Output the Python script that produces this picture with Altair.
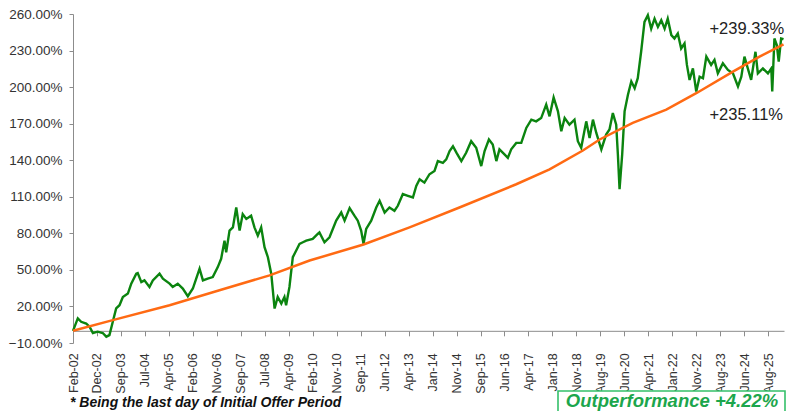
import altair as alt
import pandas as pd

# x positions are expressed in "label steps" (0 = Feb-02, 1 = Dec-02, ...)
tick_labels = ["Feb-02", "Dec-02", "Sep-03", "Jul-04", "Apr-05", "Feb-06", "Nov-06",
               "Sep-07", "Jul-08", "Apr-09", "Feb-10", "Nov-10", "Sep-11", "Jun-12",
               "Apr-13", "Jan-14", "Nov-14", "Sep-15", "Jun-16", "Apr-17", "Jan-18",
               "Nov-18", "Aug-19", "Jun-20", "Apr-21", "Jan-22", "Nov-22", "Aug-23",
               "Jun-24", "Aug-25"]

fund_t = [0.00, 0.20, 0.34, 0.55, 0.69, 0.83, 1.03, 1.24, 1.39, 1.52, 1.66, 1.80, 1.94,
          2.08, 2.29, 2.43, 2.64, 2.70, 2.85, 2.98, 3.19, 3.33, 3.61, 3.75, 4.03, 4.16,
          4.37, 4.58, 4.79, 5.00, 5.14, 5.28, 5.42, 5.62, 5.83, 6.04, 6.18, 6.32, 6.39,
          6.53, 6.67, 6.81, 6.95, 7.08, 7.23, 7.43, 7.57, 7.71, 7.85, 7.99, 8.13, 8.27,
          8.41, 8.54, 8.69, 8.82, 8.89, 9.03, 9.17, 9.38, 9.45, 9.59, 9.73, 10.00, 10.21,
          10.28, 10.49, 10.70, 10.98, 11.19, 11.33, 11.54, 11.74, 11.88, 12.02, 12.12,
          12.23, 12.44, 12.65, 12.79, 13.00, 13.20, 13.41, 13.55, 13.76, 13.97, 14.18,
          14.32, 14.46, 14.66, 14.87, 15.08, 15.22, 15.43, 15.57, 15.71, 15.85, 16.00,
          16.20, 16.40, 16.61, 16.82, 17.03, 17.17, 17.35, 17.51, 17.66, 17.79, 18.00,
          18.14, 18.28, 18.49, 18.70, 18.91, 19.12, 19.32, 19.53, 19.74, 19.88, 20.05,
          20.23, 20.37, 20.51, 20.71, 20.92, 21.06, 21.20, 21.41, 21.55, 21.69, 21.83,
          22.04, 22.24, 22.38, 22.52, 22.66, 22.73, 22.80, 22.91, 23.01, 23.15, 23.29,
          23.43, 23.56, 23.70, 23.84, 23.98, 24.12, 24.26, 24.40, 24.54, 24.68, 24.81,
          24.96, 25.09, 25.23, 25.37, 25.51, 25.61, 25.72, 25.86, 26.00, 26.14, 26.28,
          26.42, 26.62, 26.76, 26.90, 27.11, 27.32, 27.53, 27.74, 27.88, 28.01, 28.15,
          28.29, 28.47, 28.57, 28.78, 28.99, 29.13, 29.17, 29.26, 29.36, 29.44, 29.54,
          29.64]
fund_v = [0.0, 10.2, 7.4, 6.0, 3.3, -1.8, -0.7, -1.8, -4.8, -3.5, 7.4, 18.4, 21.0,
          27.8, 30.6, 38.7, 46.9, 47.4, 40.0, 41.4, 36.0, 41.4, 46.9, 42.8, 38.7, 36.0,
          38.7, 34.7, 28.4, 34.7, 42.8, 51.0, 41.4, 42.8, 44.1, 52.3, 59.1, 74.0, 64.5,
          82.2, 84.9, 101.2, 82.2, 95.8, 91.8, 94.5, 84.9, 78.1, 84.9, 68.6, 60.4, 46.9,
          18.3, 27.8, 22.4, 27.8, 21.0, 36.0, 60.4, 68.6, 71.4, 72.7, 74.0, 75.4, 79.5,
          80.8, 72.7, 76.8, 90.4, 97.1, 90.4, 100.7, 94.5, 90.4, 82.2, 71.4,
          83.6, 90.4, 101.2, 106.7, 97.1, 101.2, 98.5, 102.6, 112.2, 110.8, 109.4,
          118.9, 124.4, 121.6, 128.5, 131.2, 139.3, 137.9, 140.7, 147.5, 151.5, 146.0,
          139.3, 146.1, 155.6, 150.2, 135.2, 147.5, 157.0, 152.9, 139.3, 148.9, 144.8,
          142.0, 148.9, 154.2, 154.2, 166.5, 173.3, 171.9, 174.6, 185.6, 176.0, 191.5,
          180.1, 163.8, 174.6, 169.2, 173.3, 155.6, 150.2, 171.9, 158.3, 173.3, 162.4,
          148.9, 161.1, 165.2, 178.7, 169.2, 144.8, 116.2, 144.8, 180.1, 193.7, 204.6,
          199.1, 207.3, 229.0, 253.5, 259.0, 248.0, 256.2, 249.4, 254.9, 248.0, 256.2,
          242.7, 239.9, 244.0, 231.7, 235.8, 218.2, 205.9, 215.4, 196.4, 208.6, 207.3,
          225.0, 218.2, 222.3, 211.3, 219.5, 214.1, 211.3, 200.5, 208.6, 225.0, 215.4,
          205.9, 229.0, 211.3, 215.4, 211.3, 215.4, 196.4, 239.9, 234.5, 220.9, 239.9,
          239.33]

bench_t = [0.00, 1.66, 4.03, 6.11, 8.20, 9.87, 12.12, 14.04, 16.12, 18.49, 19.88,
           21.27, 21.97, 23.35, 24.75, 26.00, 27.53, 28.64, 29.64]
bench_v = [0.0, 8.8, 21.0, 33.3, 45.5, 57.7, 70.8, 84.9, 101.2, 120.3, 132.5,
           148.0, 157.0, 170.6, 181.5, 195.0, 212.7, 225.0, 235.11]

y_ticks = [-10, 20, 50, 80, 110, 140, 170, 200, 230, 260]

W, H = 711, 329
Y_MIN, Y_MAX = -10, 260
X_MAX = 29.66

fund_df = pd.DataFrame({"t": fund_t, "v": fund_v})
bench_df = pd.DataFrame({"t": bench_t, "v": bench_v})

label_js = "[" + ",".join("'" + s + "'" for s in tick_labels) + "]"
zero_offset = -H * (0 - Y_MIN) / (Y_MAX - Y_MIN)

x_scale = alt.Scale(domain=[0, X_MAX], nice=False, zero=False)
y_scale = alt.Scale(domain=[Y_MIN, Y_MAX], nice=False, zero=False)

x_axis = alt.Axis(values=list(range(len(tick_labels))), tickCount=len(tick_labels),
                  labelExpr=label_js + "[datum.value]",
                  title=None, grid=False, offset=zero_offset, domainColor="#8c8c8c",
                  tickColor="#8c8c8c", tickSize=5, labelPadding=17, labelAngle=270,
                  labelAlign="right", labelBaseline="middle", labelFont="Liberation Sans",
                  labelFontSize=12.5, labelColor="#333333", labelOverlap=False,
                  labelFlush=False)
y_axis = alt.Axis(values=y_ticks, tickCount=len(y_ticks),
                  labelExpr="format(datum.value, '.2f') + '%'", title=None,
                  grid=False, domainColor="#8c8c8c", tickColor="#8c8c8c", tickSize=4,
                  labelPadding=7, labelFont="Liberation Sans", labelFontSize=13.5,
                  labelColor="#333333", labelOverlap=False)

fund_line = alt.Chart(fund_df).mark_line(color="#0b840f", strokeWidth=2.4).encode(
    x=alt.X("t:Q", scale=x_scale, axis=x_axis),
    y=alt.Y("v:Q", scale=y_scale, axis=y_axis),
)
bench_line = alt.Chart(bench_df).mark_line(color="#ff6a13", strokeWidth=2.5).encode(
    x=alt.X("t:Q", scale=x_scale),
    y=alt.Y("v:Q", scale=y_scale),
)

ann_df = pd.DataFrame({
    "t": [26.55, 26.55],
    "v": [248.0, 177.0],
    "txt": [f"+{fund_v[-1]:.2f}%", f"+{bench_v[-1]:.2f}%"],
})
ann = alt.Chart(ann_df).mark_text(align="left", baseline="middle", font="Liberation Sans",
                                  fontSize=16.5, color="#222222").encode(
    x=alt.X("t:Q", scale=x_scale), y=alt.Y("v:Q", scale=y_scale), text="txt:N")

foot = alt.Chart(pd.DataFrame({"txt": ["* Being the last day of Initial Offer Period"]})).mark_text(
    align="left", baseline="alphabetic", font="Liberation Sans", fontSize=14,
    fontWeight="bold", fontStyle="italic", color="#111111").encode(
    x=alt.value(-3), y=alt.value(393), text="txt:N")

outperf = round(fund_v[-1] - bench_v[-1], 2)
box = alt.Chart(pd.DataFrame({"a": [1]})).mark_rect(
    fill="white", stroke="#35c06a", strokeWidth=1.6).encode(
    x=alt.value(485), x2=alt.value(712), y=alt.value(377), y2=alt.value(430))
box_txt = alt.Chart(pd.DataFrame({"txt": [f"Outperformance +{outperf:.2f}%"]})).mark_text(
    align="center", baseline="alphabetic", font="Liberation Sans", fontSize=18.5,
    fontWeight="bold", fontStyle="italic", color="#1ca64c").encode(
    x=alt.value(599), y=alt.value(393), text="txt:N")

chart = alt.layer(fund_line, bench_line, ann, foot, box, box_txt).properties(
    width=W, height=H,
    autosize=alt.AutoSizeParams(type="none"),
    padding={"left": 65, "top": 6, "right": 4, "bottom": 68},
    background="white",
).configure_view(stroke=None)

chart.save("out.html", embed_options={"renderer": "svg", "actions": False})
